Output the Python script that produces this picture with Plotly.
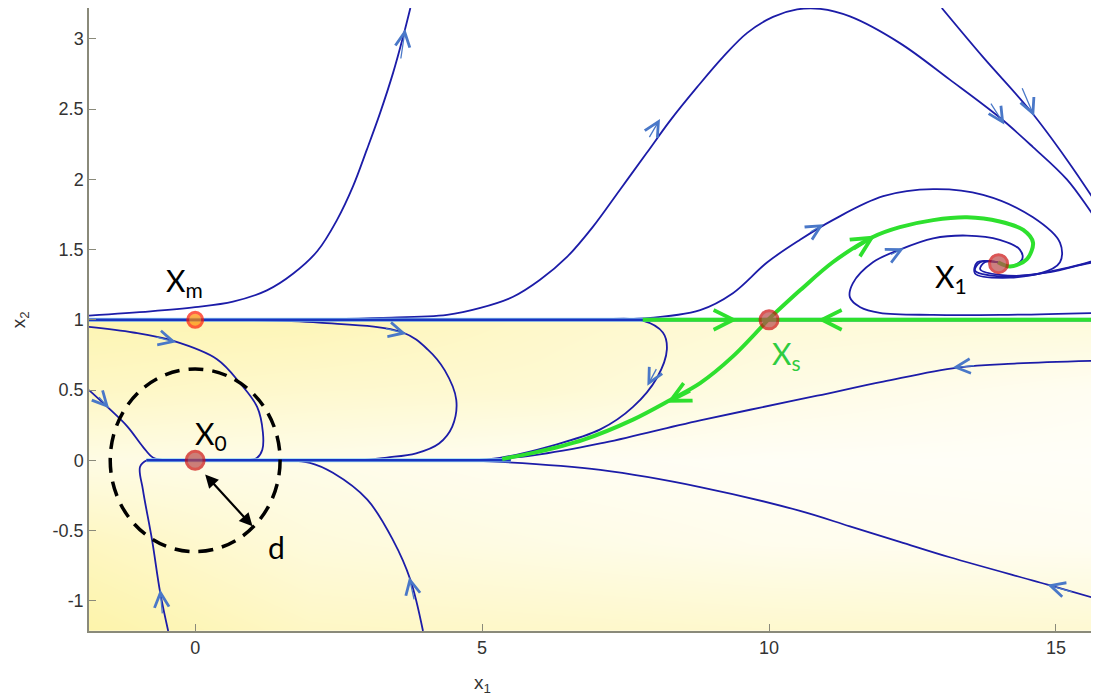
import plotly.graph_objects as go

# visible window of the phase plane
X_RANGE = [-1.85, 15.75]
Y_RANGE = [-1.215, 3.22]

# equilibria: X_m, X_0, X_s, X_1
eq_name = ["X<sub>m</sub>", "X<sub>0</sub>", "X<sub>s</sub>", "X<sub>1</sub>"]
eq_x = [0.0, 0.0, 10.0, 14.0]
eq_y = [1.0, 0.0, 1.0, 1.4]
label_x = [-0.19, 0.28, 10.31, 13.17]
label_y = [1.27, 0.18, 0.75, 1.30]

# tick labels (plain hyphen minus, as in the original)
x_ticks = [0, 5, 10, 15]
y_ticks = [-1, -0.5, 0, 0.5, 1, 1.5, 2, 2.5, 3]
y_tick_text = ["-1", "-0.5", "0", "0.5", "1", "1.5", "2", "2.5", "3"]

# invariant lines x2 = 1 and x2 = 0
top_line_x = [-1.85, 15.75]
top_line_y = [1.0, 1.0]
zero_line_x = [-0.85, 5.5]
zero_line_y = [0.0, 0.0]

# separatrices of X_s (green)
sep_right_x = [7.8, 15.75]
sep_right_y = [1.0, 1.0]
sep_up_x = [9.98, 10.54, 11.11, 11.81, 12.28, 12.86, 13.45, 14.02, 14.43, 14.6, 14.49, 14.2, 13.99]
sep_up_y = [1.0, 1.21, 1.41, 1.59, 1.66, 1.71, 1.73, 1.70, 1.64, 1.55, 1.43, 1.38, 1.41]
sep_down_x = [9.98, 9.37, 8.80, 8.28, 7.63, 6.76, 5.89, 5.35]
sep_down_y = [1.0, 0.74, 0.55, 0.43, 0.29, 0.146, 0.053, 0.01]

# streamlines (blue)
esc_left_x = [-1.85, -0.78, 0.0, 0.66, 1.25, 1.71, 2.13, 2.47, 2.75, 2.99, 3.22, 3.45, 3.62, 3.75]
esc_left_y = [1.03, 1.06, 1.09, 1.13, 1.21, 1.33, 1.49, 1.71, 1.95, 2.21, 2.47, 2.76, 3.01, 3.22]

hump_x = [2.35, 3.22, 4.39, 4.97, 5.54, 6.01, 6.48, 6.93, 7.40, 7.87, 8.28, 8.75, 9.20,
          9.62, 10.07, 10.49, 10.89, 11.41, 12.28, 13.15, 14.02, 14.6, 15.19, 15.59,
          15.94, 16.03, 15.75, 14.9, 14.02, 13.59, 13.68, 13.99]
hump_y = [1.005, 1.014, 1.036, 1.085, 1.164, 1.285, 1.448, 1.662, 1.925, 2.189, 2.42,
          2.658, 2.872, 3.043, 3.157, 3.21, 3.214, 3.16, 2.97, 2.71, 2.44, 2.23, 2.0,
          1.78, 1.57, 1.36, 1.41, 1.34, 1.31, 1.35, 1.41, 1.41]

top_right_x = [13.01, 13.73, 14.55, 15.19, 15.75, 16.1, 15.75, 15.07, 14.2, 13.59, 13.63, 13.99]
top_right_y = [3.22, 2.87, 2.49, 2.14, 1.80, 1.57, 1.44, 1.36, 1.30, 1.33, 1.41, 1.41]

upper_loop_x = [7.06, 7.80, 8.80, 9.37, 9.97, 10.54, 11.11, 11.99, 12.86, 13.73,
                14.6, 15.07, 15.07, 14.72, 14.02, 13.68, 13.76, 13.99]
upper_loop_y = [1.005, 1.01, 1.07, 1.19, 1.41, 1.57, 1.71, 1.88, 1.93, 1.89,
                1.73, 1.55, 1.41, 1.33, 1.32, 1.36, 1.41, 1.41]

inner_loop_x = [15.75, 14.02, 12.86, 11.93, 11.59, 11.41, 11.46, 11.81, 12.28,
                12.86, 13.45, 14.02, 14.37, 14.41, 14.2, 13.99]
inner_loop_y = [1.05, 1.035, 1.035, 1.05, 1.09, 1.16, 1.26, 1.41, 1.50,
                1.58, 1.60, 1.57, 1.50, 1.43, 1.38, 1.41]

loop_x0_x = [-1.85, -1.08, -0.38, 0.38, 0.78, 1.08, 1.18, 1.17, 1.08, 0.91, 0.0]
loop_x0_y = [0.95, 0.91, 0.85, 0.72, 0.55, 0.38, 0.20, 0.075, 0.018, 0.0, 0.0]

loop_mid_x = [0.61, 2.16, 3.62, 4.05, 4.35, 4.55, 4.48, 4.25, 3.85, 3.34, 2.82, 0.0]
loop_mid_y = [1.0, 0.98, 0.91, 0.79, 0.64, 0.43, 0.24, 0.12, 0.05, 0.02, 0.0, 0.0]

loop_right_x = [7.06, 7.80, 8.15, 8.22, 8.05, 7.63, 7.06, 6.18, 5.31, 4.74, 0.0]
loop_right_y = [1.0, 0.995, 0.91, 0.79, 0.59, 0.38, 0.22, 0.10, 0.018, 0.0, 0.0]

right_mid_x = [15.75, 14.32, 13.28, 11.99, 10.84, 9.67, 8.80, 8.22, 7.06, 5.89, 4.97]
right_mid_y = [0.71, 0.69, 0.66, 0.56, 0.46, 0.36, 0.285, 0.23, 0.12, 0.035, 0.0]

right_low_x = [15.75, 14.9, 13.15, 12.28, 11.41, 10.54, 8.80, 7.06, 5.31, 4.44]
right_low_y = [-0.99, -0.89, -0.69, -0.58, -0.47, -0.36, -0.19, -0.068, -0.011, 0.0]

left_in_x = [-1.85, -1.53, -1.18, -0.91, -0.73, -0.49, 0.0]
left_in_y = [0.50, 0.38, 0.24, 0.096, 0.018, 0.0, 0.0]

bottom_left_x = [-0.47, -0.61, -0.75, -0.91, -0.96, -0.84, -0.49, 0.0]
bottom_left_y = [-1.215, -0.94, -0.57, -0.21, -0.046, 0.0, 0.0, 0.0]

bottom_mid_x = [3.97, 3.75, 3.45, 3.0, 2.40, 2.0, 1.53, 0.0]
bottom_mid_y = [-1.215, -0.85, -0.57, -0.28, -0.089, -0.018, 0.0, 0.0]

# direction chevrons: tip and tail points on the curves
arrow_tip_x = [3.66, 8.10, 14.10, 14.62, 10.95, 12.35, -0.33, 3.68, 7.88, 13.20, 14.85, -1.50, -0.61, 3.73]
arrow_tip_y = [3.07, 2.43, 2.39, 2.45, 1.68, 1.51, 0.84, 0.90, 0.53, 0.66, -0.885, 0.37, -0.92, -0.83]
arrow_tail_x = [3.58, 7.90, 13.85, 14.40, 10.70, 12.10, -0.70, 3.30, 8.05, 13.60, 15.30, -1.70, -0.57, 3.82]
arrow_tail_y = [2.85, 2.29, 2.55, 2.66, 1.62, 1.46, 0.88, 0.94, 0.66, 0.675, -0.94, 0.46, -1.10, -1.00]

green_tip_x = [9.45, 10.85, 11.85, 8.22]
green_tip_y = [1.0, 1.0, 1.60, 0.41]
green_tail_x = [9.0, 11.3, 11.45, 8.65]
green_tail_y = [1.0, 1.0, 1.50, 0.50]

# basin shading intensity (0 = white, 1 = full yellow)
shade_x = [-1.85, 2.0, 6.0, 10.0, 15.75]
shade_y = [-1.215, -0.6, 0.0, 0.5, 1.0]
shade_z = [
    [0.95, 0.65, 0.6, 0.55, 0.5],
    [0.7, 0.4, 0.3, 0.2, 0.15],
    [0.3, 0.25, 0.15, 0.1, 0.08],
    [0.65, 0.55, 0.5, 0.3, 0.15],
    [0.85, 0.8, 0.6, 0.45, 0.4],
]

BLUE = "#1c1ca8"
GREEN = "#2ee02e"

fig = go.Figure()

fig.add_trace(
    go.Heatmap(
        x=shade_x, y=shade_y, z=shade_z, zsmooth="best", zmin=0, zmax=1,
        colorscale=[[0, "#ffffff"], [1, "#fdf3a6"]], showscale=False, hoverinfo="skip",
    )
)
# keep the region above x2 = 1 white
fig.add_trace(
    go.Scatter(
        x=[-3, 17, 17, -3, -3], y=[1.0, 1.0, 4, 4, 1.0], fill="toself",
        fillcolor="white", line=dict(width=0), mode="lines", hoverinfo="skip",
    )
)

streams = [
    (esc_left_x, esc_left_y), (hump_x, hump_y), (top_right_x, top_right_y),
    (upper_loop_x, upper_loop_y), (inner_loop_x, inner_loop_y),
    (loop_x0_x, loop_x0_y), (loop_mid_x, loop_mid_y), (loop_right_x, loop_right_y),
    (right_mid_x, right_mid_y), (right_low_x, right_low_y), (left_in_x, left_in_y),
    (bottom_left_x, bottom_left_y), (bottom_mid_x, bottom_mid_y),
]
for sx, sy in streams:
    fig.add_trace(
        go.Scatter(
            x=sx, y=sy, mode="lines", hoverinfo="skip",
            line=dict(color=BLUE, width=1.8, shape="spline", smoothing=1.0),
        )
    )

for lx, ly in [(top_line_x, top_line_y), (zero_line_x, zero_line_y)]:
    fig.add_trace(go.Scatter(x=lx, y=ly, mode="lines", line=dict(color="#9ad8f5", width=4)))
    fig.add_trace(go.Scatter(x=lx, y=ly, mode="lines", line=dict(color="#1a34c0", width=2.6)))

for gx, gy in [(sep_right_x, sep_right_y), (sep_up_x, sep_up_y), (sep_down_x, sep_down_y)]:
    fig.add_trace(
        go.Scatter(
            x=gx, y=gy, mode="lines", hoverinfo="skip",
            line=dict(color=GREEN, width=4, shape="spline", smoothing=0.9),
        )
    )

# equilibrium markers
fig.add_trace(
    go.Scatter(
        x=eq_x, y=eq_y, mode="markers",
        marker=dict(
            size=[15, 18, 18, 18],
            color=["#ff8c00", "#b84a4a", "#b84a4a", "#b84a4a"],
            line=dict(color=["#ff1a00", "#cc1010", "#cc1010", "#cc1010"], width=3),
        ),
    )
)

annotations = []
for i in range(len(arrow_tip_x)):
    annotations.append(dict(
        x=arrow_tip_x[i], y=arrow_tip_y[i], ax=arrow_tail_x[i], ay=arrow_tail_y[i],
        xref="x", yref="y", axref="x", ayref="y", text="", showarrow=True,
        arrowhead=5, arrowsize=2.2, arrowwidth=1.3, arrowcolor="#4a78c8",
    ))
for i in range(len(green_tip_x)):
    annotations.append(dict(
        x=green_tip_x[i], y=green_tip_y[i], ax=green_tail_x[i], ay=green_tail_y[i],
        xref="x", yref="y", axref="x", ayref="y", text="", showarrow=True,
        arrowhead=5, arrowsize=1.1, arrowwidth=3.5, arrowcolor=GREEN,
    ))

label_colors = ["black", "black", "#2ecc40", "black"]
for i, name in enumerate(eq_name):
    annotations.append(dict(
        x=label_x[i], y=label_y[i], xref="x", yref="y", text=name, showarrow=False,
        font=dict(family="Lato", size=30, color=label_colors[i]),
    ))

# radius d of the neighbourhood of X_0
annotations.append(dict(
    x=1.0, y=-0.47, ax=0.15, ay=-0.09, xref="x", yref="y", axref="x", ayref="y",
    text="", showarrow=True, arrowhead=2, arrowside="end+start", arrowsize=1.2,
    arrowwidth=2.2, arrowcolor="black",
))
annotations.append(dict(
    x=1.42, y=-0.62, xref="x", yref="y", text="d", showarrow=False,
    font=dict(family="Lato", size=30, color="black"),
))

# axis titles
annotations.append(dict(
    x=5.0, y=-0.085, xref="x", yref="paper", text="x<sub>1</sub>", showarrow=False,
    xanchor="center", yanchor="middle",
    font=dict(family="Liberation Sans", size=19, color="#333333"),
))
annotations.append(dict(
    x=-0.068, y=1.0, xref="paper", yref="y", text="x<sub>2</sub>", showarrow=False,
    xanchor="center", yanchor="middle", textangle=-90,
    font=dict(family="Liberation Sans", size=19, color="#333333"),
))

# the page adds an 8px body margin, so the plot area is shifted back by that much
fig.update_layout(
    width=1099, height=696,
    margin=dict(l=81, r=8, t=0, b=73),
    paper_bgcolor="white", plot_bgcolor="white",
    showlegend=False,
    annotations=annotations,
    shapes=[dict(
        type="circle", xref="x", yref="y", x0=-1.48, x1=1.48, y0=-0.65, y1=0.65,
        line=dict(color="black", width=3.5, dash="15px,9px"), layer="above",
    )],
)
axis_style = dict(
    showgrid=False, zeroline=False, showline=True, linecolor="#8a8a7a", linewidth=1.5,
    ticks="inside", ticklen=7, tickcolor="#8a8a7a",
    tickfont=dict(family="Liberation Sans", size=18, color="#333333"),
)
fig.update_xaxes(range=X_RANGE, tickvals=x_ticks, **axis_style)
fig.update_yaxes(range=Y_RANGE, tickvals=y_ticks, ticktext=y_tick_text, **axis_style)

fig.write_html("out.html")
